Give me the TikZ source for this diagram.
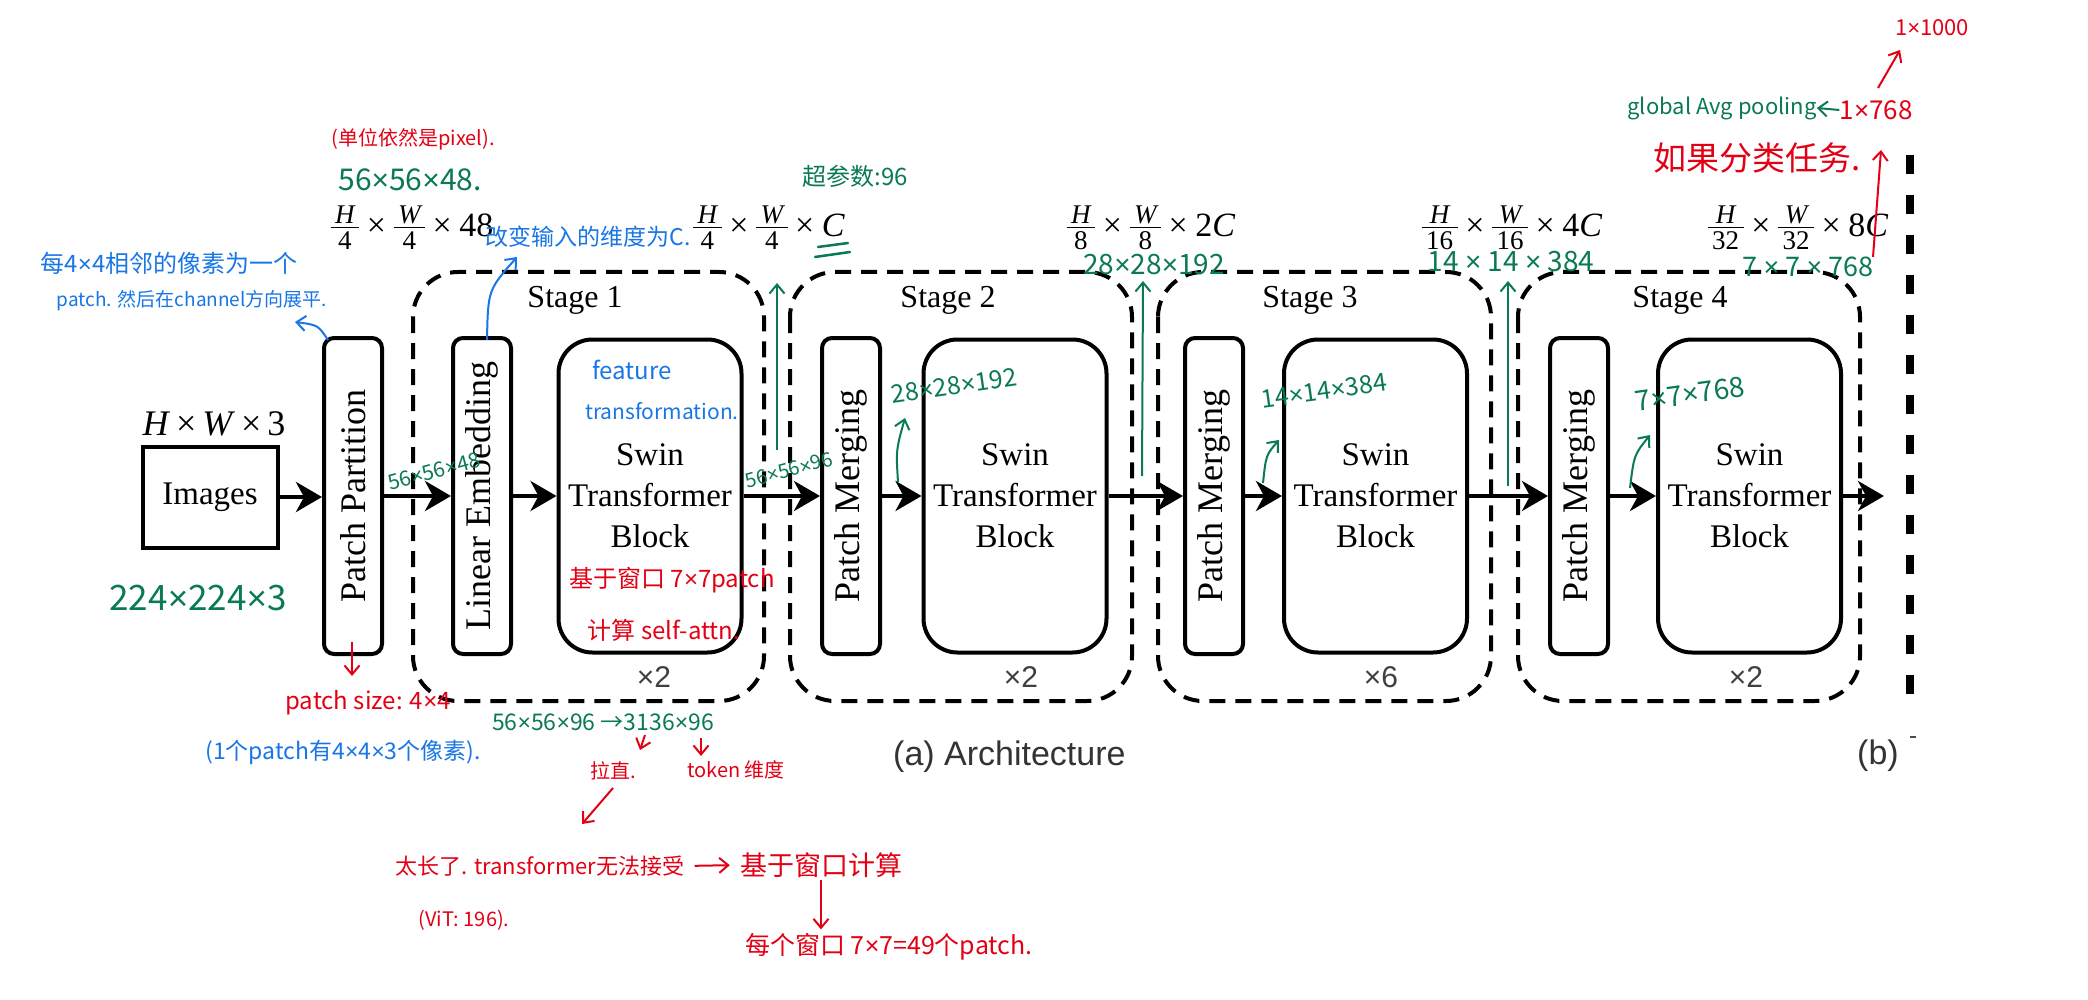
\documentclass[tikz,border=0pt]{standalone}
\usepackage{fontspec}
\setmainfont{Liberation Serif}
\setsansfont{Liberation Sans}
\newfontfamily\hand{Noto Sans CJK SC}
\newfontfamily\mulf{Liberation Sans}
\usetikzlibrary{arrows.meta}
\definecolor{hgreen}{RGB}{10,122,80}
\definecolor{hred}{RGB}{228,0,20}
\definecolor{hblue}{RGB}{24,118,230}
\newcommand\hs[1]{\hand\fontsize{#1}{#1}\selectfont}
\newcommand\X{{\mulf ×}}
\newcommand\fr[2]{\ensuremath{\vcenter{\hbox{\fontsize{27}{27}\selectfont
 \setlength\arrayrulewidth{1.6pt}\renewcommand\arraystretch{0.8}%
 \begin{tabular}{@{\,}c@{\,}}\itshape #1\\[-3pt]\hline\rule{0pt}{21pt}#2\end{tabular}}}}}
\tikzset{
 blk/.style={draw, line width=4pt, rounded corners=10pt, inner sep=0pt, minimum width=58pt, minimum height=316pt},
 sbox/.style={draw, line width=4pt, rounded corners=34pt, inner sep=0pt, align=center,
   minimum width=183pt, minimum height=313pt, font=\fontsize{33}{41}\selectfont},
 stg/.style={draw, line width=4pt, dash pattern=on 16pt off 10pt, rounded corners=45pt},
 arr/.style={line width=4pt, -{Stealth[length=26pt,width=30pt,inset=8pt]}},
 vtxt/.style={rotate=90, font=\fontsize{36}{36}\selectfont, inner sep=0pt},
 lbl/.style={font=\fontsize{34}{40}\selectfont, inner sep=0pt, anchor=base},
 stl/.style={font=\fontsize{32}{36}\selectfont, anchor=base, inner sep=0pt},
 rep/.style={font=\sffamily\fontsize{30}{30}\selectfont, text=black!75, anchor=base, inner sep=0pt},
 gtxt/.style={text=hgreen, inner sep=0pt},
 rtxt/.style={text=hred, inner sep=0pt},
 btxt/.style={text=hblue, inner sep=0pt},
 garr/.style={draw=hgreen, line width=2pt, -{Straight Barb[length=9pt,width=15pt]}},
 rarr/.style={draw=hred, line width=2pt, -{Straight Barb[length=9pt,width=15pt]}},
 barr/.style={draw=hblue, line width=2pt, -{Straight Barb[length=9pt,width=15pt]}},
}
\begin{document}
\begin{tikzpicture}[x=1pt,y=-1pt]
\useasboundingbox (0,0) rectangle (2088,1000);
\fill[white] (0,0) rectangle (2088,1000);

% ---------- stage frames ----------
\draw[stg] (413,272) rectangle (764,701);
\draw[stg] (790,272) rectangle (1132,701);
\draw[stg] (1158,272) rectangle (1491,701);
\draw[stg] (1518,272) rectangle (1860,701);
\draw[line width=8pt, dash pattern=on 19pt off 21pt] (1910,155) -- (1910,702);

% ---------- blocks ----------
\node[draw, line width=4pt, inner sep=0pt, minimum width=135pt, minimum height=101pt,
      font=\fontsize{33}{33}\selectfont] (img) at (210,497) {Images};
\node[font=\fontsize{36}{36}\selectfont, anchor=base, inner sep=0pt] (hw3) at (214,435)
      {\textit{H}\,×\,\textit{W}\,×\,3};

\node[blk] (pp) at (353,496) {};
\node[vtxt] (ppt) at (pp.center) {Patch Partition};
\node[blk] (le) at (482,496) {};
\node[vtxt] (let) at (le.center) {Linear Embedding};
\node[sbox] (sw1) at (650,496) {Swin\\Transformer\\Block};

\node[blk] (pm2) at (851,496) {};
\node[vtxt] (pm2t) at (pm2.center) {Patch Merging};
\node[sbox] (sw2) at (1015,496) {Swin\\Transformer\\Block};

\node[blk] (pm3) at (1214,496) {};
\node[vtxt] (pm3t) at (pm3.center) {Patch Merging};
\node[sbox] (sw3) at (1375.5,496) {Swin\\Transformer\\Block};

\node[blk] (pm4) at (1579,496) {};
\node[vtxt] (pm4t) at (pm4.center) {Patch Merging};
\node[sbox] (sw4) at (1749.5,496) {Swin\\Transformer\\Block};
\coordinate (outp) at (1884,496);

% ---------- arrows ----------
\draw[arr] (img.east) -- (img.east -| pp.west);
\draw[arr] (pp.east) -- (le.west);
\draw[arr] (le.east) -- (sw1.west);
\draw[arr] (sw1.east) -- (pm2.west);
\draw[arr] (pm2.east) -- (sw2.west);
\draw[arr] (sw2.east) -- (pm3.west);
\draw[arr] (pm3.east) -- (sw3.west);
\draw[arr] (sw3.east) -- (pm4.west);
\draw[arr] (pm4.east) -- (sw4.west);
\draw[arr] (sw4.east) -- (outp);

% ---------- stage labels ----------
\node[stl] (st1) at (575,308) {Stage 1};
\node[stl] (st2) at (948,308) {Stage 2};
\node[stl] (st3) at (1310,308) {Stage 3};
\node[stl] (st4) at (1680,308) {Stage 4};
\node[rep] (x1) at (654,687) {×2};
\node[rep] (x2) at (1021,687) {×2};
\node[rep] (x3) at (1381,687) {×6};
\node[rep] (x4) at (1746,687) {×2};

% ---------- dimension labels ----------
\node[lbl] (d1) at (412,237) {\fr{H}{4}\:×\:\fr{W}{4}\:×\:48};
\node[lbl] (d2) at (769,237) {\fr{H}{4}\:×\:\fr{W}{4}\:×\:\textit{C}};
\node[lbl] (d3) at (1151,237) {\fr{H}{8}\:×\:\fr{W}{8}\:×\:2\textit{C}};
\node[lbl] (d4) at (1512,237) {\fr{H}{16}\:×\:\fr{W}{16}\:×\:4\textit{C}};
\node[lbl] (d5) at (1798,237) {\fr{H}{32}\:×\:\fr{W}{32}\:×\:8\textit{C}};

\node[font=\sffamily\fontsize{34}{34}\selectfont, text=black!80, anchor=base west, inner sep=0pt]
  (capa) at (893,765) {(a) Architecture};
\node[font=\sffamily\fontsize{34}{34}\selectfont, text=black!80, anchor=base west, inner sep=0pt]
  (capb) at (1857,764) {(b)};
\draw[line width=2pt, black!70] (1910,737) -- (1916,737);

% ---------- green annotations ----------
\node[gtxt, font=\hs{30}] (g1) at (410,180) {56\X56\X48.};
\node[gtxt, font=\hs{24}] (g2) at (855,176) {超参数:96};
\draw[hgreen, line width=2.5pt, line cap=round] (818,247) -- (848,243);
\draw[hgreen, line width=2.5pt, line cap=round] (815,257) -- (850,252);
\node[gtxt, font=\hs{28}] (g4) at (1154,265) {28\X28\X192};
\node[gtxt, font=\hs{28}] (g5) at (1511,262) {14 \X\ 14 \X\ 384};
\node[gtxt, font=\hs{27}] (g6) at (1808,267) {7 \X\ 7 \X\ 768};
\node[gtxt, font=\hs{35}] (g7) at (198,598) {224\X224\X3};
\node[gtxt, font=\hs{21}, rotate=15] (g8) at (434,471) {56\X56\X48};
\node[gtxt, font=\hs{20}, rotate=15] (g9) at (789,470) {56\X56\X96};
\node[gtxt, font=\hs{25}, rotate=8] (g10) at (954,386) {28\X28\X192};
\node[gtxt, font=\hs{25}, rotate=8] (g11) at (1324,391) {14\X14\X384};
\node[gtxt, font=\hs{28}, rotate=8] (g12) at (1690,394) {7\X7\X768};
\node[gtxt, font=\hs{23}] (g13) at (603,722) {56\X56\X96 →3136\X96};
\node[gtxt, font=\hs{22}] (g14) at (1722,108) {global Avg pooling};

\coordinate (ga1s) at (777,450); \coordinate (ga1e) at (777,283);
\coordinate (ga2s) at (1142,476); \coordinate (ga2e) at (1143,281);
\coordinate (ga3s) at (1508,486); \coordinate (ga3e) at (1508,281);
\draw[garr] (ga1s) -- (ga1e);
\draw[garr] (ga2s) -- (ga2e);
\draw[garr] (ga3s) -- (ga3e);
\coordinate (gb1s) at (898,482); \coordinate (gb1e) at (905,418);
\coordinate (gb2s) at (1263,483); \coordinate (gb2e) at (1279,440);
\coordinate (gb3s) at (1630,488); \coordinate (gb3e) at (1650,435);
\draw[garr] (gb1s) .. controls (896,450) .. (gb1e);
\draw[garr] (gb2s) .. controls (1266,455) .. (gb2e);
\draw[garr] (gb3s) .. controls (1634,455) .. (gb3e);

% ---------- red annotations ----------
\node[rtxt, font=\hs{20}] (r1) at (413,139) {(单位依然是pixel).};
\node[rtxt, font=\hs{24}] (r2) at (672,580) {基于窗口 7\X7patch};
\node[rtxt, font=\hs{24}] (r3) at (664,630) {计算 self-attn.};
\node[rtxt, font=\hs{24}] (r4) at (368,703) {patch size: 4\X4};
\node[rtxt, font=\hs{33}] (r5) at (1757,158) {如果分类任务.};
\node[rtxt, font=\hs{26}] (r6) at (1876,110) {1\X768};
\node[rtxt, font=\hs{22}] (r7) at (1932,28) {1\X1000};
\node[rtxt, font=\hs{20}] (r8) at (613,771) {拉直.};
\node[rtxt, font=\hs{20}] (r9) at (736,770) {token 维度};
\node[rtxt, font=\hs{22}] (r10) at (540,866) {太长了. transformer无法接受};
\node[rtxt, font=\hs{27}] (r11) at (821,865) {基于窗口计算};
\node[rtxt, font=\hs{25}] (r12) at (889,947) {每个窗口 7\X7=49个patch.};
\node[rtxt, font=\hs{20}] (r13) at (464,920) {(ViT: 196).};

\draw[garr] (r6.west) -- (g14.east);

\coordinate (ra1s) at (352,642); \coordinate (ra1e) at (352,676);
\coordinate (ra2s) at (1873,257); \coordinate (ra2e) at (1881,150);
\coordinate (ra3s) at (1878,88); \coordinate (ra3e) at (1900,50);
\coordinate (ra4s) at (645,735); \coordinate (ra4e) at (640,750);
\coordinate (ra5s) at (701,738); \coordinate (ra5e) at (701,756);
\coordinate (ra6s) at (613,788); \coordinate (ra6e) at (582,824);
\draw[rarr] (ra1s) -- (ra1e);
\draw[rarr] (ra2s) -- (ra2e);
\draw[rarr] (ra3s) -- (ra3e);
\draw[rarr] (ra4s) -- (ra4e);
\draw[rarr] (ra5s) -- (ra5e);
\draw[rarr] (ra6s) -- (ra6e);
\draw[rarr, shorten <=10pt, shorten >=10pt] (r10.east) -- (r11.west);
\draw[rarr, shorten <=2pt, shorten >=4pt] (r11.south) -- (r11.south |- r12.north);

% ---------- blue annotations ----------
\node[btxt, font=\hs{24}] (b1) at (169,263) {每4\X4相邻的像素为一个};
\node[btxt, font=\hs{19}] (b2) at (192,301) {patch. 然后在channel方向展平.};
\node[btxt, font=\hs{23}] (b3) at (588,237) {改变输入的维度为C.};
\node[btxt, font=\hs{24}] (b4) at (632,370) {feature};
\node[btxt, font=\hs{21}] (b5) at (662,411) {transformation.};
\node[btxt, font=\hs{23}] (b6) at (343,752) {(1个patch有4\X4\X3个像素).};
\coordinate (bb1s) at (328,340); \coordinate (bb1e) at (295,322);
\coordinate (bb2s) at (487,340); \coordinate (bb2e) at (517,257);
\draw[barr] (bb1s) .. controls (318,325) .. (bb1e);
\draw[barr] (bb2s) .. controls (488,290) .. (bb2e);
\end{tikzpicture}
\end{document}
